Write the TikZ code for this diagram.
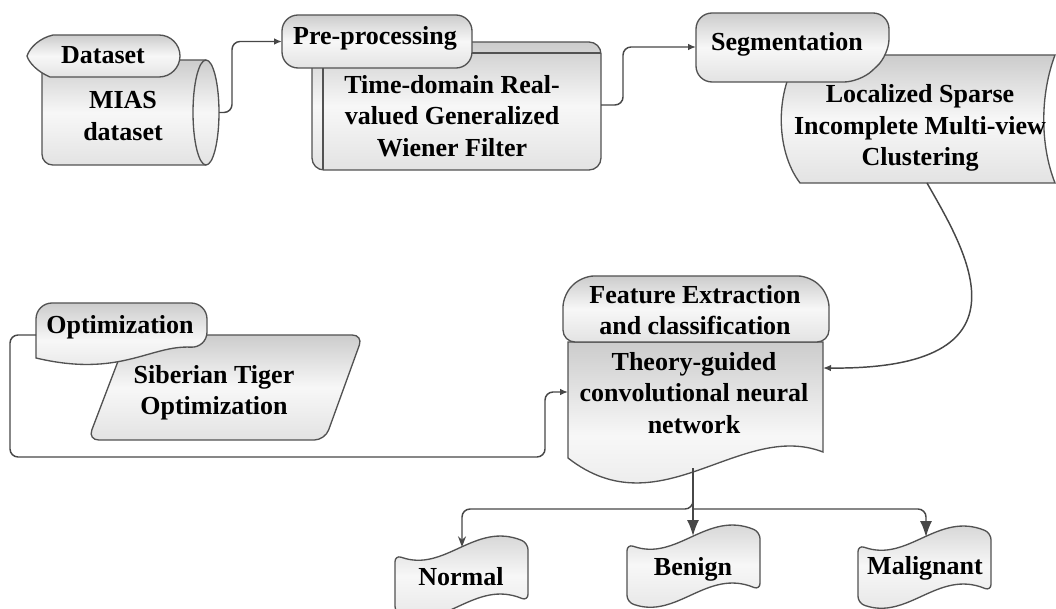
\documentclass[tikz,border=0pt]{standalone}
\usepackage{fontspec}
\setmainfont{Liberation Serif}
\usetikzlibrary{arrows.meta}
\begin{document}
\begin{tikzpicture}[x=0.75pt,y=-0.75pt,
  shp/.style={draw=black!68, line width=1pt, top color=black!20, bottom color=black!11, middle color=black!3},
  edge/.style={draw=black!68, line width=1pt},
  lbl/.style={font=\fontsize{19.5}{23.6}\selectfont\bfseries, align=center, inner sep=0pt, text=black},
  conn/.style={draw=black!72, line width=1.1pt, rounded corners=6pt},
  tip/.style={-{Latex[length=6pt,width=5pt]}},
  midtip/.style={-{Stealth[length=8pt,width=6pt]}},
  bigtip/.style={-{Latex[length=12pt,width=9pt]}},
  tapebox/.pic={
    \path[shp, rounded corners=5pt] (0,12) .. controls (50,30) and (80,-22) .. (133,0) -- (133,58)
      .. controls (80,36) and (50,88) .. (0,70) -- cycle;
  }
]
\useasboundingbox (0,0) rectangle (1056,609);
\clip (0,0) rectangle (1056,609);

% ---------- Dataset ----------
\path[shp] (206,60) [rounded corners=8pt]-- (42,60) -- (42,165) [sharp corners]-- (206,165)
  arc[start angle=90, end angle=-90, x radius=13, y radius=52.5] -- cycle;
\draw[edge] (206,60) arc[start angle=-90, end angle=-270, x radius=13, y radius=52.5];
\path[shp] (53,35) -- (159,35) arc[start angle=-90, end angle=90, radius=21] -- (50,77)
  .. controls (38,72) and (29,63) .. (27,56) .. controls (30,47) and (40,38) .. (53,35) -- cycle;
\node[lbl] (dstxt) at (103,55) {Dataset};
\node[lbl] (miastxt) at (123,116) {MIAS\\dataset};
\coordinate (cylR) at (219,112.5);

% ---------- Pre-processing ----------
\path[shp, rounded corners=9pt] (312,42) rectangle (601,170);
\draw[edge] (323,170) -- (323,53) -- (601,53);
\path[shp, rounded corners=12pt] (282,15) rectangle (472,68);
\node[lbl] (pretxt) at (375,38) {Pre-processing};
\node[lbl] (wienertxt) at (452,116) {Time-domain Real-\\valued Generalized\\Wiener Filter};
\coordinate (preW) at (282,41.5);
\coordinate (preE) at (601,105);

% ---------- Segmentation ----------
\path[shp] (800,55) -- (1055,55) .. controls (1040,95) and (1040,145) .. (1055,183)
  -- (800,183) .. controls (775,150) and (775,90) .. (800,55) -- cycle;
\path[shp, rounded corners=12pt] (696,13) -- (889,13) -- (889,55) -- (860,82) -- (696,82) -- cycle;
\node[lbl] (segtxt) at (787,44) {Segmentation};
\node[lbl] (lsimtxt) at (920,128) {Localized Sparse\\Incomplete Multi-view\\Clustering};
\coordinate (segW) at (696,47);
\coordinate (segS) at (927,183);

% ---------- Optimization ----------
\path[shp, rounded corners=8pt] (128,335) -- (363,335) -- (325,440) -- (88,440) -- cycle;
\node[lbl] (stotxt) at (214,393) {Siberian Tiger\\Optimization};
\path[shp] (36,358) [rounded corners=12pt]-- (36,303) -- (207,303) -- (207,348) [sharp corners]
  .. controls (150,345) and (120,378) .. (36,358) -- cycle;
\node[lbl] (opttxt) at (120,327) {Optimization};
\coordinate (optW) at (36,335);

% ---------- Feature extraction / CNN ----------
\path[shp] (568,342) -- (823,342) -- (823,452) .. controls (740,420) and (660,530) .. (568,458) -- cycle;
\path[shp, rounded corners=9pt] (563,342) -- (563,295) -- (582,276) -- (810,276) -- (829,295) -- (829,342) -- cycle;
\node[lbl] (fetxt) at (695,310) {Feature Extraction\\and classification};
\node[lbl] (tgtxt) at (694,393) {Theory-guided\\convolutional neural\\network};
\coordinate (cnnW) at (568,392);
\coordinate (cnnE) at (823,368);
\coordinate (cnnS) at (693,468);

% ---------- Outputs ----------
\pic at (395,543) {tapebox};
\pic at (627,532) {tapebox};
\pic at (858,533) {tapebox};
\node[lbl] (normaltxt) at (461,577) {Normal};
\node[lbl] (benigntxt) at (693,569) {Benign};
\node[lbl] (maltxt) at (925,568) {Malignant};
\coordinate (normT) at (462,547);
\coordinate (benT) at (693,536);
\coordinate (malT) at (926,537);
\coordinate (split) at (693,509);

% ---------- Connectors ----------
\draw[conn, tip] (cylR) -- ++(13,0) |- (preW);
\draw[conn, tip] (preE) -- ++(22,0) |- (segW);
\draw[conn, tip] (segS) .. controls (965,250) and (1040,370) .. (cnnE);
\draw[conn, tip] (optW) -- (10,335) -- (10,457) -- (545,457) |- (cnnW);
\draw[conn, midtip] (cnnS) -- (split) -| (normT);
\draw[conn, bigtip] (cnnS) -- (benT);
\draw[conn, bigtip] (split) -| (malT);
\end{tikzpicture}
\end{document}
